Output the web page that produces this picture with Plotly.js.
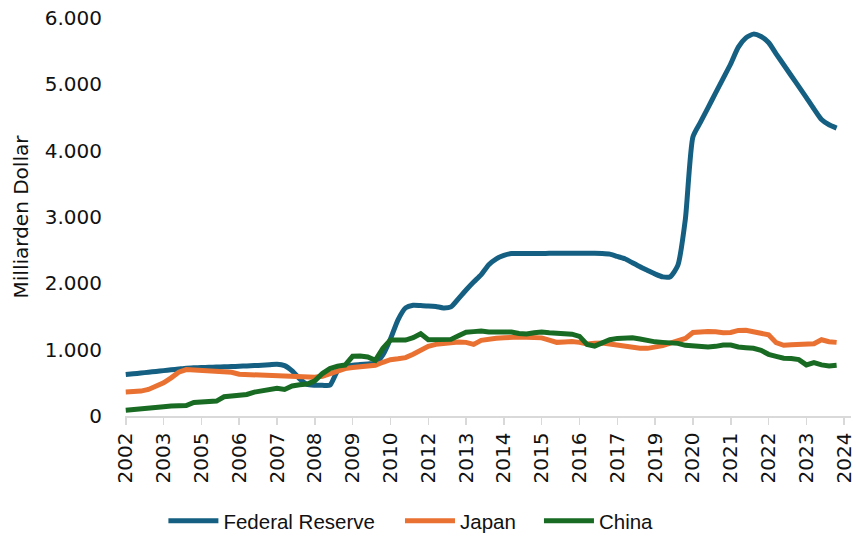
<!DOCTYPE html>
<html>
<head>
<meta charset="utf-8">
<script src="https://cdn.plot.ly/plotly-3.0.1.min.js"></script>
<style>html,body{margin:0;padding:0;background:#fff;}#chart{width:860px;height:536px;}</style>
</head>
<body>
<div id="chart"></div>
<script>
// Observation index (irregular reporting periods, 95 points)
const fedReserve = [624,636,648,660,672,684,696,708,720,726,730,734,738,742,746,750,754,760,766,772,
  780,760,680,560,475,463,463,465,680,745,765,775,785,795,920,1160,1450,1630,1670,1665,
  1660,1650,1630,1645,1770,1900,2020,2130,2280,2370,2420,2449,2450,2450,2450,2450,2452,2452,2452,2453,
  2453,2453,2453,2450,2440,2405,2370,2310,2250,2195,2140,2097,2100,2270,2970,4208,4430,4650,4870,5090,
  5310,5560,5700,5757,5720,5630,5460,5295,5130,4965,4800,4630,4470,4390,4340];
const japan = [362,368,375,400,450,500,575,660,700,695,690,680,675,670,660,630,625,618,612,605,
  598,590,580,582,588,583,600,640,690,715,732,745,755,765,810,848,862,880,930,1000,
  1050,1080,1095,1105,1115,1110,1080,1140,1165,1172,1180,1190,1192,1188,1184,1178,1145,1110,1115,1122,
  1110,1085,1095,1100,1085,1065,1045,1030,1022,1020,1040,1060,1100,1140,1170,1260,1270,1275,1270,1255,
  1260,1290,1293,1270,1232,1225,1105,1066,1075,1081,1072,1090,1150,1120,1110];
const china = [86,100,115,125,133,140,152,156,158,205,218,220,225,290,305,315,325,360,382,397,
  418,400,452,470,482,530,640,715,752,768,900,905,890,840,1020,1145,1150,1145,1180,1240,
  1150,1152,1152,1155,1210,1262,1272,1282,1268,1267,1267,1267,1245,1235,1255,1265,1255,1243,1238,1234,
  1200,1080,1055,1095,1150,1170,1175,1180,1160,1135,1118,1110,1105,1095,1065,1055,1048,1042,1050,1070,
  1070,1040,1030,1020,990,930,900,870,866,850,770,805,770,755,765];
const tickPositions = [0,5,10,15,20,25,30,35,40,45,50,55,60,65,70,75,80,85,90,95];
const tickLabels = ["2002","2003","2005","2006","2007","2008","2009","2010","2012","2013",
  "2014","2015","2016","2017","2019","2020","2021","2022","2023","2024"];
const seriesNames = ["Federal Reserve","Japan","China"];
const colors = ["#156082","#E97132","#196B24"];

const legendIds = ['legend','legend2','legend3'];
const idx = fedReserve.map((_, i) => i);
const data = [fedReserve, japan, china].map((ys, k) => ({
  x: idx, y: ys, type: 'scatter', mode: 'lines', name: seriesNames[k], legend: legendIds[k],
  line: {color: colors[k], width: 5, shape: k === 0 ? 'spline' : 'linear', smoothing: 0.6},
  hoverinfo: 'skip'
}));

function legendAt(xc) {
  return {orientation: 'h', xref: 'container', yref: 'container', x: xc, y: 0.028,
    xanchor: 'left', yanchor: 'middle', font: {family: 'Liberation Sans, Arial, sans-serif', size: 20.5, color: '#111'},
    itemwidth: 50, bgcolor: 'rgba(0,0,0,0)'};
}

const tickFont = {family: 'DejaVu Sans, sans-serif', size: 20, color: '#111'};
const layout = {
  width: 860, height: 536,
  margin: {l: 125, r: 9, t: 18, b: 120},
  paper_bgcolor: '#fff', plot_bgcolor: '#fff',
  separators: ',.',
  font: {family: 'DejaVu Sans, sans-serif', size: 20, color: '#111'},
  showlegend: true,
  legend: legendAt(0.19),
  legend2: legendAt(0.4651),
  legend3: legendAt(0.6267),
  xaxis: {
    type: 'linear', range: [-0.1, 95.9], tickmode: 'array', tickvals: tickPositions, ticktext: tickLabels,
    tickangle: -90, showgrid: false, zeroline: false, showline: true, linecolor: '#d9d9d9', linewidth: 1.5,
    ticks: 'outside', ticklen: 7, tickcolor: '#d9d9d9', tickwidth: 1.5,
    tickfont: tickFont, fixedrange: true
  },
  yaxis: {
    range: [0, 6000], dtick: 1000, tick0: 0, tickformat: ',d', showgrid: false, zeroline: false,
    showline: false, ticks: '', ticklabelstandoff: 22, tickfont: tickFont,
    title: {text: 'Milliarden Dollar', font: {family: 'DejaVu Sans, sans-serif', size: 20, color: '#111'}, standoff: 10},
    fixedrange: true
  }
};
Plotly.newPlot('chart', data, layout, {displayModeBar: false, staticPlot: true});
</script>
</body>
</html>
